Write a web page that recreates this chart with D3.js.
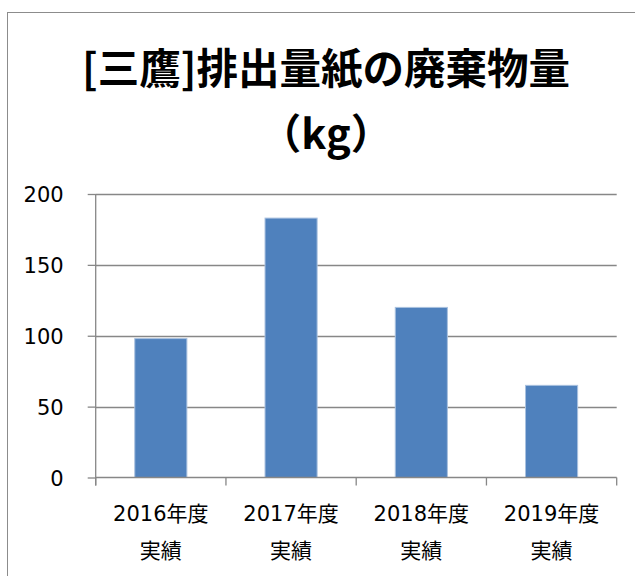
<!DOCTYPE html>
<html><head><meta charset="utf-8">
<script src="https://cdn.jsdelivr.net/npm/d3@7"></script>
<style>
html,body{margin:0;padding:0;background:#fff;}
svg{display:block;}
</style></head>
<body>
<svg id="c" width="635" height="576"></svg>
<script>
const categories = ["2016年度\n実績", "2017年度\n実績", "2018年度\n実績", "2019年度\n実績"];
const values = [98, 183, 120, 65];
const yTicks = [0, 50, 100, 150, 200];
const titleLines = ["[三鷹]排出量紙の廃棄物量", "（kg）"];

const svg = d3.select("#c");
const plot = {left: 95.7, right: 616.7, top: 194, bottom: 477.5};

svg.append("rect").attr("x", 7.5).attr("y", 12.5).attr("width", 640).attr("height", 600)
  .attr("fill", "#fff").attr("stroke", "#8c8c8c").attr("stroke-width", 1);

const x = d3.scaleBand().domain(categories).range([plot.left, plot.right])
  .paddingInner(0.6).paddingOuter(0.3);
const y = d3.scaleLinear().domain([0, 200]).range([plot.bottom, plot.top]);

// gridlines
svg.append("g").selectAll("line").data(yTicks.filter(d => d > 0)).join("line")
  .attr("x1", plot.left).attr("x2", plot.right)
  .attr("y1", d => Math.round(y(d)) + 0.5).attr("y2", d => Math.round(y(d)) + 0.5)
  .attr("stroke", "#878787").attr("stroke-width", 1.3);

// y axis
const yAxis = d3.axisLeft(y).tickValues(yTicks).tickSize(8).tickPadding(24);
const gy = svg.append("g").attr("transform", `translate(${plot.left},0)`).call(yAxis);
gy.select(".domain").attr("stroke", "#878787").attr("stroke-width", 1.3).attr("d", `M0,${plot.top}V${plot.bottom + 8}`);
gy.selectAll(".tick line").attr("stroke", "#878787").attr("stroke-width", 1.3);
gy.selectAll(".tick text").attr("font-family", "'DejaVu Sans', Verdana, sans-serif")
  .attr("font-size", 21).attr("fill", "#000").attr("dy", "0.36em");

// bars
svg.append("g").selectAll("rect").data(values).join("rect")
  .attr("x", (d, i) => x(categories[i]))
  .attr("width", x.bandwidth())
  .attr("y", d => y(d))
  .attr("height", d => y(0) - y(d))
  .attr("fill", "#4F81BD").attr("stroke", "#a9c1df").attr("stroke-width", 1);

// x axis
const bounds = categories.map((c, i) => x(c) - x.step() * x.paddingInner() / 2);
bounds[0] = plot.left;
bounds.push(plot.right);
const gx = svg.append("g");
gx.append("line").attr("x1", plot.left).attr("x2", plot.right)
  .attr("y1", plot.bottom).attr("y2", plot.bottom)
  .attr("stroke", "#878787").attr("stroke-width", 1.5);
gx.selectAll("line.t").data(bounds).join("line").attr("class", "t")
  .attr("x1", d => d).attr("x2", d => d)
  .attr("y1", plot.bottom).attr("y2", plot.bottom + 8)
  .attr("stroke", "#878787").attr("stroke-width", 1.3);
const lbl = gx.selectAll("text").data(categories).join("text")
  .attr("text-anchor", "middle")
  .attr("font-family", "'DejaVu Sans', 'Noto Sans CJK JP', sans-serif")
  .attr("font-size", 21).attr("fill", "#000");
lbl.each(function(d) {
  const cx = x(d) + x.bandwidth() / 2;
  d.split("\n").forEach((s, k) => {
    d3.select(this).append("tspan").attr("x", cx).attr("y", 521 + k * 37).text(s);
  });
});

// title
svg.append("g").selectAll("text").data(titleLines).join("text")
  .attr("x", 326).attr("y", (d, i) => 84 + i * 65)
  .attr("text-anchor", "middle")
  .attr("font-family", "'Noto Sans CJK JP', sans-serif")
  .attr("font-weight", "bold").attr("font-size", 41.5).attr("fill", "#000")
  .text(d => d);
</script>
</body></html>
